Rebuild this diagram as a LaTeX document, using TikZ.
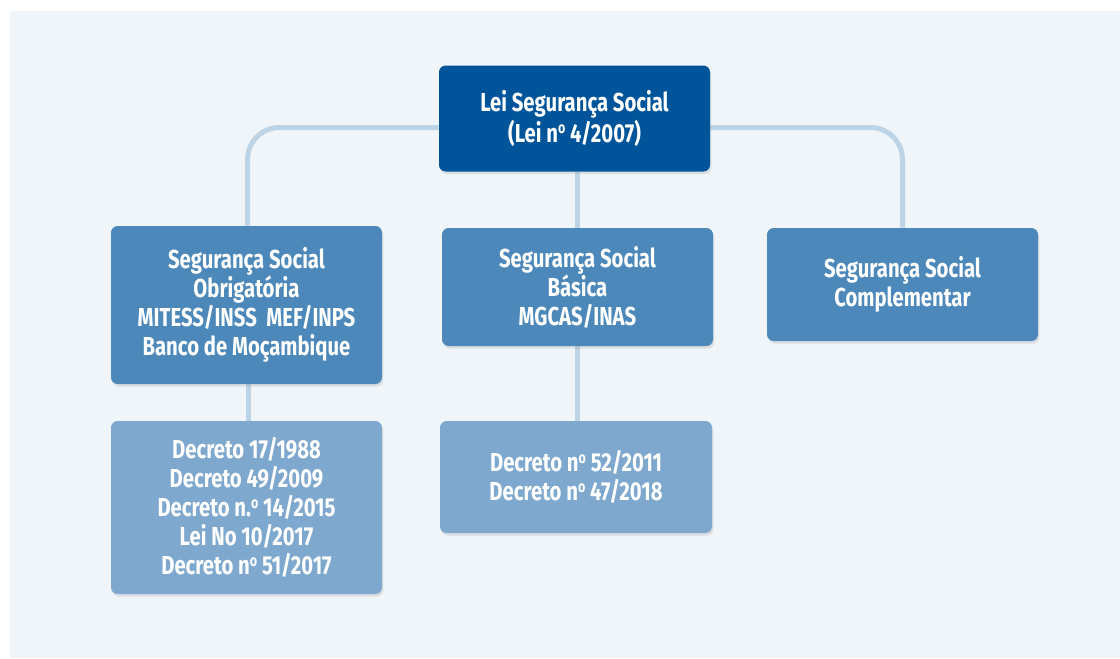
\documentclass[tikz,border=0pt]{standalone}
\usepackage{fontspec}
\newfontfamily\boxfont{Fira Sans}[FakeStretch=0.78]
\usetikzlibrary{shadows,calc}
\pgfdeclarelayer{background}
\pgfsetlayers{background,main}
\definecolor{panel}{HTML}{F0F5F9}
\definecolor{topblue}{HTML}{00549A}
\definecolor{midblue}{HTML}{4C88B9}
\definecolor{lowblue}{HTML}{7EA8CD}
\definecolor{linkblue}{HTML}{BDD3E6}
\newcommand{\ordo}{\raisebox{0.62ex}{\fontsize{12}{12}\selectfont o}}
\tikzset{
  box/.style={rounded corners=5pt, align=center, text=white,
    font=\boxfont\bfseries\fontsize{19.5}{21.75}\selectfont,
    minimum width=203.25pt, inner sep=0pt,
    drop shadow={opacity=0.18, shadow xshift=1pt, shadow yshift=-2pt}},
  topbox/.style={box, fill=topblue},
  midbox/.style={box, fill=midblue},
  lowbox/.style={box, fill=lowblue},
  link/.style={draw=linkblue, line width=3.75pt}
}
\begin{document}
\begin{tikzpicture}[x=0.75pt, y=-0.75pt]
\useasboundingbox (0,0) rectangle (1120,658);

\node[topbox, minimum height=79.5pt] (top) at (574.5,118.5) {Lei Segurança Social\\(Lei n\ordo{} 4/2007)};
\node[midbox, minimum height=118.5pt] (lmid) at (246.5,305) {Segurança Social\\Obrigatória\\MITESS/INSS\ \ MEF/INPS\\Banco de Moçambique};
\node[midbox, minimum height=88.5pt] (cmid) at (577.5,287) {Segurança Social\\Básica\\MGCAS/INAS};
\node[midbox, minimum height=84.75pt] (rmid) at (902.5,284.5) {Segurança Social\\Complementar};
\node[lowbox, minimum height=129.75pt] (lbot) at (246.5,507.5) {Decreto 17/1988\\Decreto 49/2009\\Decreto n.\ordo{} 14/2015\\Lei No 10/2017\\Decreto n\ordo{} 51/2017};
\node[lowbox, minimum height=84pt, minimum width=204pt] (cbot) at (576,477) {Decreto n\ordo{} 52/2011\\Decreto n\ordo{} 47/2018};

\begin{pgfonlayer}{background}
  \fill[white] (0,0) rectangle (1120,658);
  \fill[panel] (10,11) rectangle (1120,658);
  \draw[link, rounded corners=24pt] ($(top.west)+(0,9)$) -| ($(lmid.north)+(1,0)$);
  \draw[link, rounded corners=24pt] ($(top.east)+(0,9)$) -| (rmid.north);
  \draw[link] (cmid.north |- top.south) -- (cmid.north);
  \draw[link] (cmid.south) -- (cmid.south |- cbot.north);
  \draw[link] ($(lmid.south)+(2,0)$) -- ($(lbot.north)+(2,0)$);
\end{pgfonlayer}
\end{tikzpicture}
\end{document}
